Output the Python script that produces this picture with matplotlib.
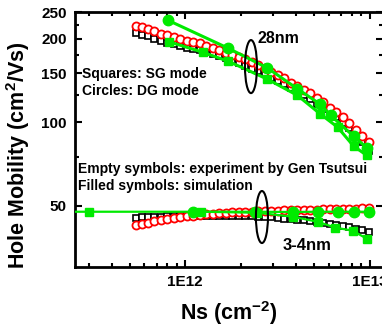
import matplotlib
matplotlib.use("Agg")
import matplotlib.pyplot as plt
from matplotlib.patches import Ellipse
from matplotlib.ticker import FixedLocator, NullFormatter, LogLocator

plt.rcParams["font.family"] = ["Liberation Sans", "DejaVu Sans"]
plt.rcParams["font.weight"] = "bold"
plt.rcParams["mathtext.fontset"] = "custom"
plt.rcParams["mathtext.rm"] = "Liberation Sans:bold"
plt.rcParams["mathtext.bf"] = "Liberation Sans:bold"
plt.rcParams["mathtext.default"] = "bf"

# Ns in units of 1E12 cm^-2
ns_exp = [0.54, 0.58, 0.63, 0.68, 0.74, 0.80, 0.87, 0.94, 1.02, 1.10,
          1.20, 1.30, 1.41, 1.53, 1.66, 1.80, 1.95, 2.12, 2.30, 2.49,
          2.70, 2.93, 3.18, 3.45, 3.74, 4.06, 4.40, 4.77, 5.18, 5.62,
          6.10, 6.61, 7.17, 7.78, 8.44, 9.15, 9.93]

# experiment, 28nm
sg28_exp = [210, 207, 204, 200, 197, 194, 191, 189, 186, 184,
            182, 179, 176, 173, 170, 166, 163, 160, 156, 153,
            149, 145, 141, 137, 133, 129, 125, 121, 116, 112,
            108, 104, 99, 95, 90, 85, 79]
dg28_exp = [222, 220, 217, 213, 209, 206, 203, 200, 197, 195,
            193, 189, 186, 182, 178, 175, 172, 169, 165, 161,
            157, 152, 148, 144, 139, 135, 131, 127, 122, 118,
            113, 109, 104, 99, 94, 89, 85]

# experiment, 3-4nm
sg34_exp = [45.2, 45.3, 45.4, 45.5, 45.6, 45.7, 45.8, 45.8, 45.9, 45.9,
            46.0, 46.0, 46.0, 46.0, 46.0, 45.9, 45.9, 45.8, 45.7, 45.6,
            45.5, 45.3, 45.1, 44.9, 44.7, 44.5, 44.2, 43.9, 43.6, 43.3,
            43.0, 42.6, 42.2, 41.7, 41.2, 40.7, 40.2]
dg34_exp = [42.6, 43.0, 43.4, 43.8, 44.2, 44.6, 45.0, 45.4, 45.7, 46.0,
            46.3, 46.5, 46.7, 46.9, 47.1, 47.2, 47.3, 47.4, 47.5, 47.6,
            47.7, 47.8, 47.9, 48.0, 48.0, 48.1, 48.2, 48.2, 48.3, 48.4,
            48.4, 48.5, 48.6, 48.6, 48.7, 48.8, 48.8]

# simulation
sg28_sim_x = [0.82, 1.24, 1.71, 2.79, 4.06, 5.41, 6.70, 8.19, 9.63]
sg28_sim_y = [195, 179, 166, 143, 125, 107, 96, 82, 76]
dg28_sim_x = [0.81, 1.71, 2.79, 4.06, 5.41, 6.14, 8.19, 9.63]
dg28_sim_y = [233, 185, 157, 132, 116, 106, 89, 81]
sg34_sim_x = [0.20, 0.301, 1.21, 2.46, 3.82, 5.22, 6.53, 8.08, 9.63]
sg34_sim_y = [47.5, 47.5, 47.5, 47.1, 45.6, 43.7, 41.6, 40.6, 38.0]
dg34_sim_x = [1.10, 2.40, 3.82, 5.22, 6.78, 8.19, 9.88]
dg34_sim_y = [47.5, 47.5, 47.4, 47.5, 47.5, 47.5, 47.5]

GREEN = "#00ea00"


def scale(v):
    return [a * 1e12 for a in v]


fig = plt.figure(figsize=(3.82, 3.32), dpi=100)
ax = fig.add_axes([0.1963, 0.1958, 0.8076, 0.768])

# experiment: open symbols
for y in (sg28_exp, sg34_exp):
    ax.plot(scale(ns_exp), y, ls="none", marker="s", ms=4.6, mfc="white",
            mec="black", mew=1.2, zorder=2)
for y in (dg28_exp, dg34_exp):
    ax.plot(scale(ns_exp), y, ls="none", marker="o", ms=5.8, mfc="white",
            mec="red", mew=1.3, zorder=3)

# simulation: filled symbols
ax.plot(scale(sg28_sim_x), sg28_sim_y, color=GREEN, lw=2.2, marker="s", ms=6, zorder=4)
ax.plot(scale(dg28_sim_x), dg28_sim_y, color=GREEN, lw=2.2, marker="o", ms=7.5, zorder=4)
ax.plot(scale(sg34_sim_x), sg34_sim_y, color=GREEN, lw=1.6, marker="s", ms=6, zorder=4)
ax.plot(scale(dg34_sim_x), dg34_sim_y, color=GREEN, lw=1.6, marker="o", ms=7.5, zorder=4)

ax.set_xscale("log")
ax.set_yscale("log")
ax.set_xlim(2.52e11, 1.19e13)
ax.set_ylim(30, 250)

ax.xaxis.set_major_locator(FixedLocator([1e12, 1e13]))
ax.set_xticklabels(["1E12", "1E13"])
ax.xaxis.set_minor_locator(LogLocator(base=10, subs=range(2, 10)))
ax.xaxis.set_minor_formatter(NullFormatter())

ax.yaxis.set_major_locator(FixedLocator([50, 100, 150, 200, 250]))
ax.set_yticklabels(["50", "100", "150", "200", "250"])
ax.yaxis.set_minor_locator(FixedLocator([75, 125, 175, 225]))
ax.yaxis.set_minor_formatter(NullFormatter())

ax.tick_params(which="both", direction="in", top=True, right=True,
               width=1.5, labelsize=11)
ax.tick_params(which="major", length=5, pad=6)
ax.tick_params(which="minor", length=3)
for s in ax.spines.values():
    s.set_linewidth(2)

ax.set_xlabel(r"Ns (cm$^{-2}$)", fontsize=15.5, fontweight="bold")
ax.set_ylabel(r"Hole Mobility (cm$^{2}$/Vs)", fontsize=15.5, fontweight="bold")
ax.xaxis.set_label_coords(0.5, -0.124)
ax.yaxis.set_label_coords(-0.138, 0.44)

tk = dict(transform=ax.transAxes, fontsize=10, fontweight="bold", va="center")
ax.text(0.023, 0.757, "Squares: SG mode", **tk)
ax.text(0.023, 0.690, "Circles: DG mode", **tk)
ax.text(0.010, 0.384, "Empty symbols: experiment by Gen Tsutsui", **tk)
ax.text(0.010, 0.318, "Filled symbols: simulation", **tk)
ax.text(0.658, 0.898, "28nm", transform=ax.transAxes, fontsize=11.5,
        fontweight="bold", ha="center", va="center")
ax.text(0.752, 0.086, "3-4nm", transform=ax.transAxes, fontsize=12,
        fontweight="bold", ha="center", va="center")

ax.add_patch(Ellipse((0.5705, 0.786), 0.039, 0.208, transform=ax.transAxes,
                     fill=False, ec="black", lw=1.5, zorder=5))
ax.add_patch(Ellipse((0.606, 0.196), 0.039, 0.204, transform=ax.transAxes,
                     fill=False, ec="black", lw=1.5, zorder=5))

fig.savefig("out.png", dpi=100)
